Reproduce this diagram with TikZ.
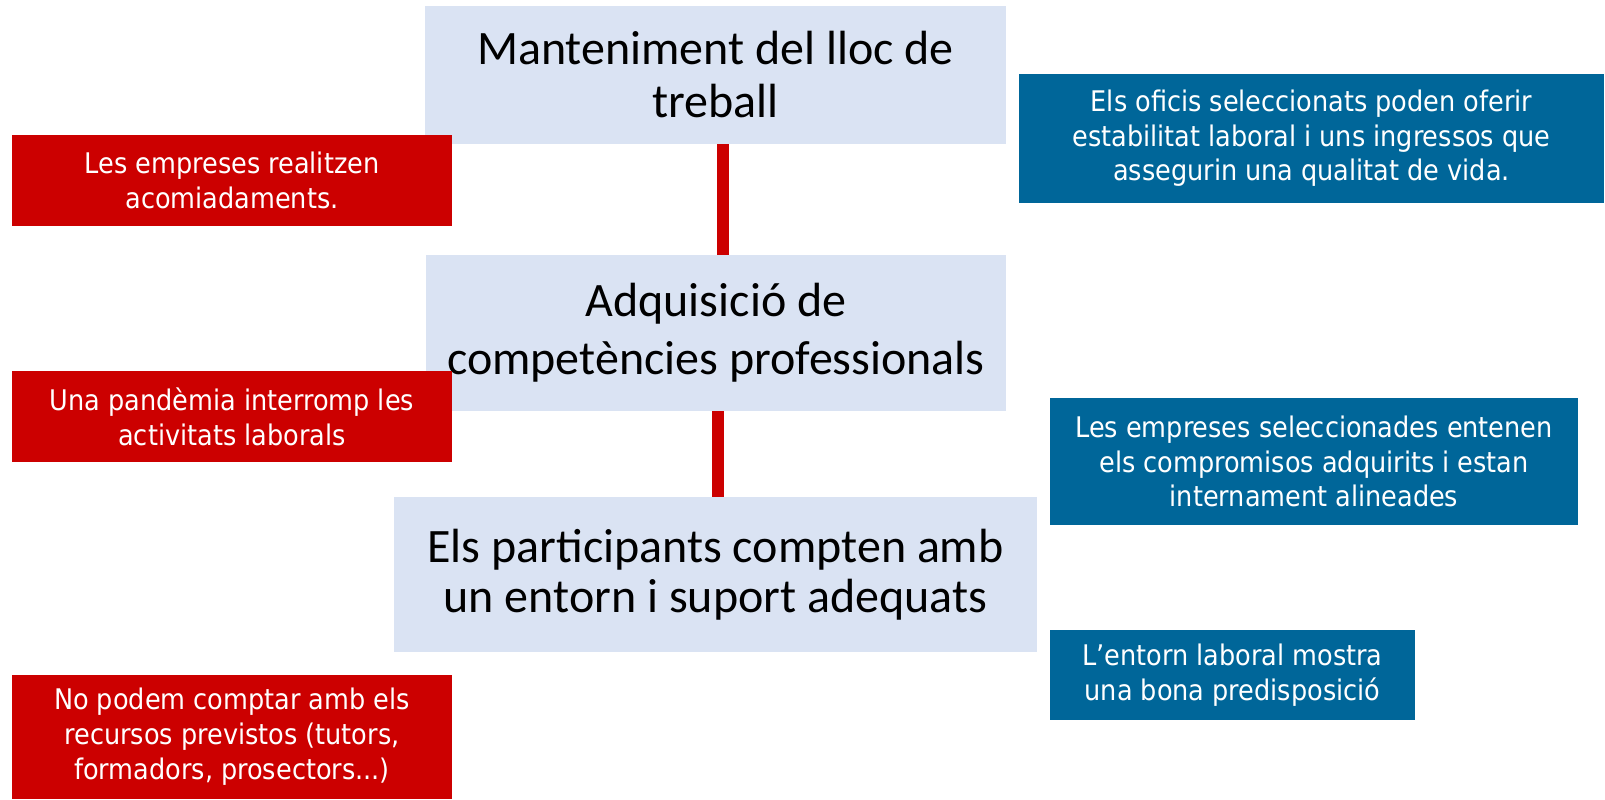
\documentclass[tikz,border=0pt]{standalone}
\usepackage{fontspec}
\setmainfont{Carlito}
\newfontfamily\sidefont{DejaVu Sans Condensed}
\usepackage{tikz}

\definecolor{goalfill}{HTML}{DAE3F3}
\definecolor{riskred}{HTML}{CC0000}
\definecolor{assumeblue}{HTML}{006699}

\tikzset{
  goal/.style={fill=goalfill,inner sep=0pt,align=center,
    font=\fontsize{24}{#1}\selectfont},
  goal/.default=26.5,
  risk/.style={fill=riskred,text=white,inner sep=0pt,align=center,
    font=\sidefont\fontsize{14.2}{17.5}\selectfont},
  assume/.style={fill=assumeblue,text=white,inner sep=0pt,align=center,
    font=\sidefont\fontsize{14.2}{17.2}\selectfont},
  link/.style={draw=riskred,line width=6pt}
}

\begin{document}
\begin{tikzpicture}[x=0.5pt,y=-0.5pt]
  \useasboundingbox (0,0) rectangle (1605,799);

  % objectives in the middle
  \node[goal,minimum width=290.5pt,minimum height=69pt] (lloc) at (715.5,75)
    {Manteniment del lloc de\\treball};
  \node[goal=29,minimum width=290pt,minimum height=78pt] (compet) at (716,333)
    {Adquisició de\\competències professionals};
  \node[goal=25,minimum width=321.5pt,minimum height=77.5pt] (entorn) at (715.5,574.5)
    {Els participants compten amb\\un entorn i suport adequats};

  \draw[link] ([xshift=3.5pt]lloc.south) -- ([xshift=3.5pt]lloc.south |- compet.north);
  \draw[link] ([xshift=0.75pt]compet.south) -- ([xshift=0.75pt]compet.south |- entorn.north);

  % risks
  \node[risk,minimum width=220pt,minimum height=45.5pt] (acomiad) at (232,180.5)
    {Les empreses realitzen\\acomiadaments.};
  \node[risk,minimum width=220pt,minimum height=45.5pt] (pandemia) at (232,416.5)
    {Una pandèmia interromp les\\activitats laborals};
  \node[risk,minimum width=220pt,minimum height=62pt] (recursos) at (232,737)
    {No podem comptar amb els\\recursos previstos (tutors,\\formadors, prosectors...)};

  % assumptions
  \node[assume,minimum width=292.5pt,minimum height=64.5pt] (oficis) at (1311.5,138.5)
    {Els oficis seleccionats poden oferir\\estabilitat laboral i uns ingressos que\\assegurin una qualitat de vida.};
  \node[assume,minimum width=264pt,minimum height=63.5pt] (empreses) at (1314,461.5)
    {Les empreses seleccionades entenen\\els compromisos adquirits i estan\\internament alineades};
  \node[assume,minimum width=182.5pt,minimum height=45pt] (predisp) at (1232.5,675)
    {L’entorn laboral mostra\\una bona predisposició};
\end{tikzpicture}
\end{document}
